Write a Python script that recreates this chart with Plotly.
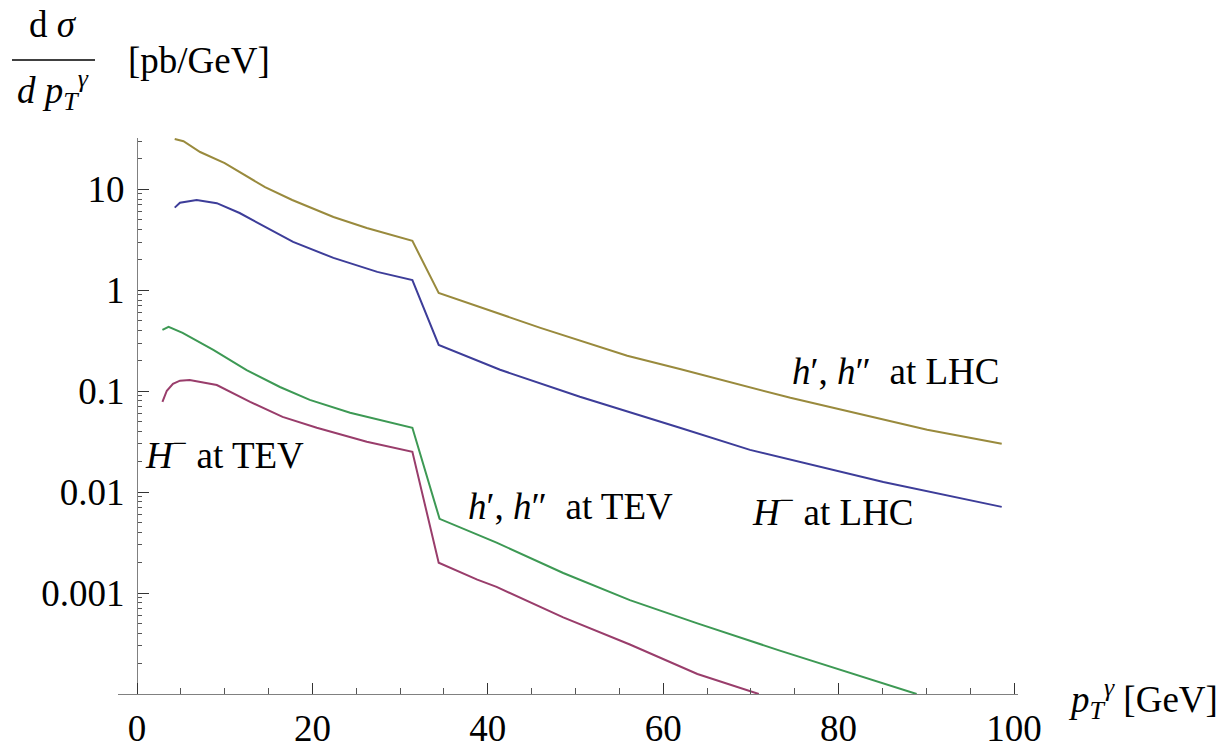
import plotly.graph_objects as go

# ---- data (x in GeV, y in pb/GeV) ----
x_lhc_h = [4.3, 5.3, 7.2, 10.0, 14.6, 17.7, 22.4, 26.2, 31.4, 34.4, 46.0, 55.9, 61.9, 74.5, 90.1, 98.6]
y_lhc_h = [31.5, 29.9, 23.4, 18.2, 10.5, 7.83, 5.32, 4.14, 3.08, 0.94, 0.424, 0.224, 0.166, 0.0859, 0.0414, 0.0301]

x_lhc_Hm = [4.3, 4.9, 6.8, 9.1, 11.7, 14.8, 17.8, 22.4, 27.4, 31.4, 34.4, 41.4, 50.5, 61.9, 69.9, 85.1, 98.6]
y_lhc_Hm = [6.58, 7.36, 7.82, 7.29, 5.82, 4.14, 3.01, 2.09, 1.52, 1.26, 0.287, 0.163, 0.0879, 0.0434, 0.0262, 0.0126, 0.00714]

x_tev_h = [2.9, 3.6, 5.2, 8.7, 12.5, 16.3, 19.7, 24.3, 31.4, 34.5, 41.0, 48.6, 56.2, 63.9, 73.3, 79.4, 88.9]
y_tev_h = [0.405, 0.434, 0.378, 0.256, 0.162, 0.110, 0.0820, 0.0611, 0.0434, 0.00544, 0.00316, 0.00158,
           0.000851, 0.000501, 0.000269, 0.000182, 0.0001]

x_tev_Hm = [2.9, 3.4, 4.1, 4.9, 6.0, 9.1, 12.9, 16.6, 20.5, 26.2, 31.4, 34.4, 38.8, 41.0, 48.6, 56.2, 63.9, 70.9]
y_tev_Hm = [0.0783, 0.101, 0.118, 0.127, 0.129, 0.115, 0.0783, 0.0556, 0.0434, 0.0315, 0.0251, 0.00200,
            0.00136, 0.00115, 0.000575, 0.000309, 0.000158, 0.0001]

x_tick_vals = [0, 20, 40, 60, 80, 100]
x_tick_text = ["0", "20", "40", "60", "80", "100"]
y_tick_vals = [0.001, 0.01, 0.1, 1, 10]
y_tick_text = ["0.001", "0.01", "0.1", "1", "10"]

labels = ["<i>h</i>′, <i>h</i>″\u00a0 at LHC", "<i>H</i><sup>−</sup> at LHC",
          "<i>h</i>′, <i>h</i>″\u00a0 at TEV", "<i>H</i><sup>−</sup> at TEV"]

# ---- styling ----
C_BLUE = "rgb(61,61,153)"
C_MAG = "rgb(153,61,107)"
C_GRN = "rgb(61,153,84)"
C_GOLD = "rgb(153,138,61)"
FONT = "Liberation Serif"
FS = 37

W, H = 1230, 742
L, R, T, B = 118, 1018, 138, 694.3

def px(x):
    return (x - L) / (R - L)

def py(y):
    return (B - y) / (B - T)

fig = go.Figure()
for xs, ys, c in [(x_lhc_Hm, y_lhc_Hm, C_BLUE), (x_tev_Hm, y_tev_Hm, C_MAG),
                  (x_tev_h, y_tev_h, C_GRN), (x_lhc_h, y_lhc_h, C_GOLD)]:
    fig.add_trace(go.Scatter(x=xs, y=ys, mode="lines", line=dict(color=c, width=2),
                             showlegend=False, hoverinfo="skip"))

minor_y = [m * 10 ** e for e in range(-4, 2) for m in range(2, 10) if m * 10 ** e < 32]

fig.update_layout(
    width=W, height=H,
    margin=dict(l=L, r=W - R, t=T, b=H - B, pad=0, autoexpand=False),
    plot_bgcolor="white", paper_bgcolor="white",
    font=dict(family=FONT, size=FS, color="black"),
    xaxis=dict(range=[(L - 137) / 8.77, (R - 137) / 8.77], showgrid=False, zeroline=False,
               automargin=False,
               showline=True, linecolor="#808080", linewidth=1.3,
               ticks="inside", ticklen=11, tickwidth=1.2, tickcolor="#333",
               tickvals=x_tick_vals, ticktext=x_tick_text, ticklabelstandoff=1,
               tickfont=dict(family=FONT, size=FS, color="black"),
               minor=dict(ticks="inside", ticklen=6, tickwidth=1.1, tickcolor="#555",
                          tick0=0, dtick=5, showgrid=False)),
    yaxis=dict(type="log", range=[-4, 1.508], anchor="free", position=px(137),
               automargin=False,
               showgrid=False, zeroline=False,
               showline=True, linecolor="#808080", linewidth=1.3,
               ticks="inside", ticklen=11, tickwidth=1.2, tickcolor="#333",
               tickvals=y_tick_vals, ticktext=y_tick_text, ticklabelstandoff=5,
               tickfont=dict(family=FONT, size=FS, color="black"),
               minor=dict(ticks="inside", ticklen=4, tickwidth=1.1, tickcolor="#555",
                          tickmode="array", tickvals=minor_y, showgrid=False)),
)

def ann(text, x, y, xanchor="left", yanchor="middle", size=FS):
    fig.add_annotation(text=text, x=px(x), y=py(y), xref="paper", yref="paper",
                       xanchor=xanchor, yanchor=yanchor, showarrow=False,
                       font=dict(family=FONT, size=size, color="black"))

ann(labels[0], 790, 372)
ann(labels[1], 750, 510)
ann(labels[2], 466, 507)
ann(labels[3], 143, 453)

ann("<i>p</i><sub><i>T</i></sub><sup><i>γ</i></sup> [GeV]", 1066, 699)

ann("d <i>σ</i>", 53, 24, xanchor="center")
ann("<i>d p</i><sub><i>T</i></sub><sup><i>γ</i></sup>", 53, 90, xanchor="center")
ann("[pb/GeV]", 126, 60)
fig.add_shape(type="line", xref="paper", yref="paper",
              x0=px(12), x1=px(95), y0=py(60), y1=py(60),
              line=dict(color="black", width=1.5))

fig.write_html("out.html", config={"displayModeBar": False},
               post_script="document.body.style.margin='0';document.body.style.overflow='hidden';")
